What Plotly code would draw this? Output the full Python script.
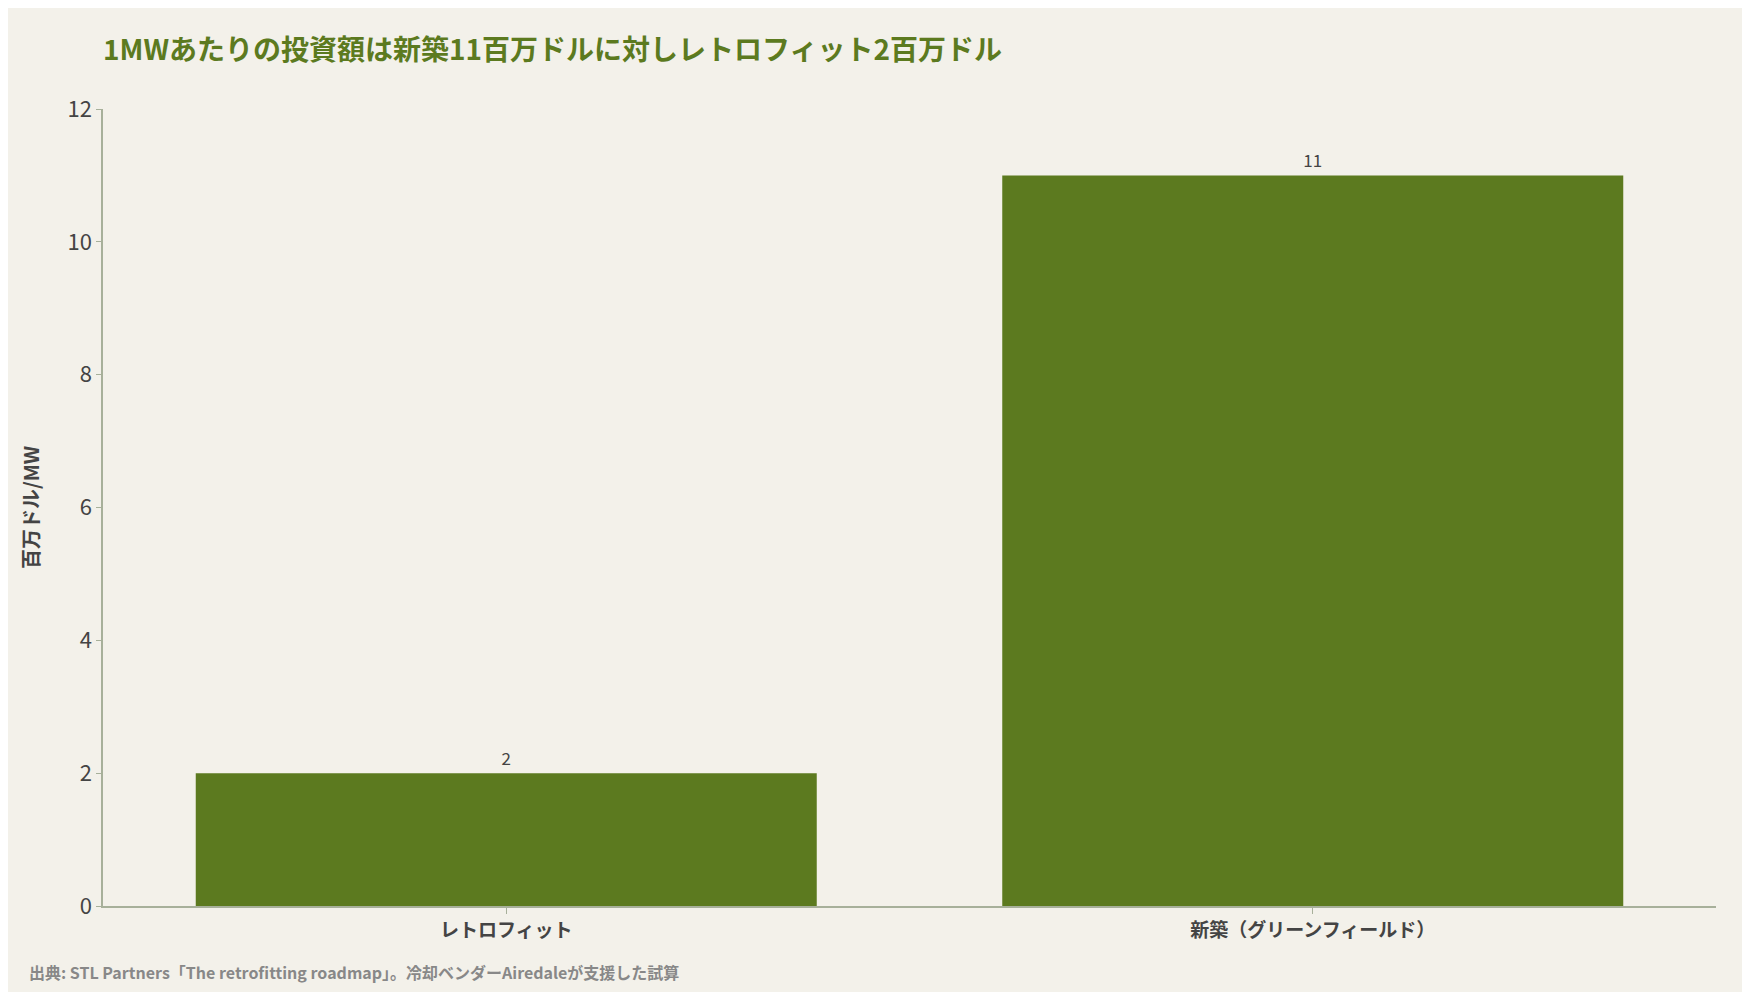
import plotly.graph_objects as go

# Data
categories = ["レトロフィット", "新築（グリーンフィールド）"]
values = [2, 11]
value_labels = ["2", "11"]

BG = "#f3f1ea"
GREEN = "#5c7a1f"
FONT = "Noto Sans CJK JP"

fig = go.Figure()
fig.add_trace(go.Bar(
    x=categories,
    y=values,
    text=value_labels,
    textposition="outside",
    textfont=dict(size=17, color="#444444", family=FONT),
    marker=dict(color=GREEN, line=dict(width=0)),
    cliponaxis=False,
))

fig.update_layout(
    width=1734, height=984,
    paper_bgcolor=BG, plot_bgcolor=BG,
    font=dict(family=FONT, color="#444444"),
    margin=dict(l=95, r=26, t=101, b=86),
    bargap=0.23,
    showlegend=False,
    title=dict(
        text="<b>1MWあたりの投資額は新築11百万ドルに対しレトロフィット2百万ドル</b>",
        x=0, xref="paper", xanchor="left", y=0.957, yanchor="middle",
        font=dict(size=28, color=GREEN, family=FONT),
    ),
    xaxis=dict(
        showline=True, linecolor="#a7b09a", linewidth=1.5,
        ticks="outside", ticklen=6, tickcolor="#a7b09a",
        tickfont=dict(size=19, color="#444444", family=FONT),
        ticktext=["<b>%s</b>" % c for c in categories], tickvals=categories,
    ),
    yaxis=dict(
        range=[0, 12], dtick=2, showgrid=False, zeroline=False,
        showline=True, linecolor="#a7b09a", linewidth=1.5,
        ticks="outside", ticklen=5, tickcolor="#a7b09a",
        tickfont=dict(size=22, color="#444444", family=FONT),
        title=dict(text="<b>百万ドル/MW</b>", font=dict(size=20, color="#444444", family=FONT), standoff=22),
    ),
)

fig.add_annotation(
    text="<b>出典: STL Partners「The retrofitting roadmap」。冷却ベンダーAiredaleが支援した試算</b>",
    xref="paper", yref="paper", x=-0.047, y=-0.083, xanchor="left", yanchor="middle",
    showarrow=False, font=dict(size=16, color="#888888", family=FONT),
)

fig.write_html("out.html")
